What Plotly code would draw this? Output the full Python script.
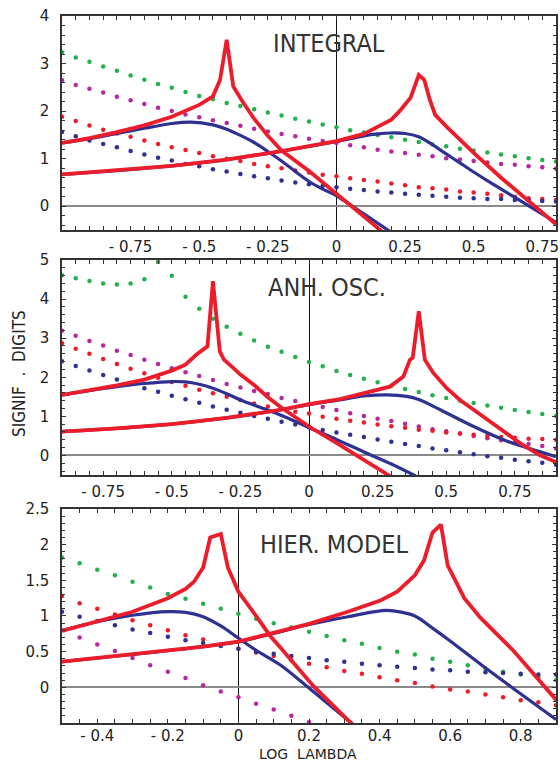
import plotly.graph_objects as go

# ---------------- data ----------------
# dotted series grids
X1 = [-1.0, -0.95, -0.9, -0.85, -0.8, -0.75, -0.7, -0.65, -0.6, -0.55, -0.5, -0.45, -0.4, -0.35, -0.3, -0.25,
      -0.2, -0.15, -0.1, -0.05, 0.0, 0.05, 0.1, 0.15, 0.2, 0.25, 0.3, 0.35, 0.4, 0.45, 0.5, 0.55, 0.6, 0.65,
      0.7, 0.75, 0.8]
X2 = [-0.9, -0.85, -0.8, -0.75, -0.7, -0.65, -0.6, -0.55, -0.5, -0.45, -0.4, -0.35, -0.3, -0.25, -0.2, -0.15,
      -0.1, -0.05, 0.0, 0.05, 0.1, 0.15, 0.2, 0.25, 0.3, 0.35, 0.4, 0.45, 0.5, 0.55, 0.6, 0.65, 0.7, 0.75,
      0.8, 0.85, 0.9]
X3 = [-0.5, -0.45, -0.4, -0.35, -0.3, -0.25, -0.2, -0.15, -0.1, -0.05, 0.0, 0.05, 0.1, 0.15, 0.2, 0.25, 0.3,
      0.35, 0.4, 0.45, 0.5, 0.55, 0.6, 0.65, 0.7, 0.75, 0.8, 0.85, 0.9]

# Panel 1: INTEGRAL
P1_green = [3.24, 3.13, 3.04, 2.94, 2.85, 2.75, 2.66, 2.57, 2.49, 2.40, 2.32, 2.25, 2.17, 2.11, 2.04, 1.97,
            1.91, 1.84, 1.78, 1.72, 1.66, 1.60, 1.55, 1.50, 1.45, 1.40, 1.35, 1.30, 1.26, 1.21, 1.17, 1.13,
            1.09, 1.05, 1.01, 0.97, 0.94]
P1_magenta = [2.65, 2.55, 2.47, 2.39, 2.30, 2.23, 2.15, 2.07, 2.00, 1.93, 1.87, 1.81, 1.75, 1.69, 1.63, 1.57,
              1.52, 1.47, 1.42, 1.37, 1.33, 1.28, 1.24, 1.19, 1.15, 1.12, 1.08, 1.05, 1.01, 0.98, 0.95, 0.92,
              0.89, 0.87, 0.84, 0.82, 0.79]
P1_red = [1.88, 1.79, 1.70, 1.61, 1.53, 1.46, 1.38, 1.31, 1.24, 1.18, 1.12, 1.05, 1.00, 0.95, 0.89, 0.84,
          0.80, 0.75, 0.71, 0.66, 0.63, 0.59, 0.55, 0.52, 0.48, 0.44, 0.40, 0.38, 0.35, 0.31, 0.29, 0.26,
          0.23, 0.20, 0.17, 0.15, 0.13]
P1_blue = [1.56, 1.47, 1.38, 1.31, 1.24, 1.16, 1.09, 1.02, 0.96, 0.89, 0.84, 0.78, 0.73, 0.68, 0.63, 0.59,
           0.54, 0.50, 0.46, 0.43, 0.40, 0.37, 0.34, 0.31, 0.29, 0.26, 0.24, 0.22, 0.20, 0.18, 0.17, 0.15,
           0.15, 0.13, 0.13, 0.11, 0.10]
P1_redA_x = [-1.0, -0.9, -0.8, -0.7, -0.6, -0.5, -0.45, -0.424, -0.40, -0.376, -0.34, -0.30, -0.25, -0.2, -0.1, 0.0, 0.1, 0.17]
P1_redA_y = [1.33, 1.43, 1.56, 1.70, 1.88, 2.13, 2.31, 2.66, 3.50, 2.52, 2.18, 1.84, 1.48, 1.17, 0.74, 0.27, -0.22, -0.55]
P1_blueA_x = [-1.0, -0.9, -0.8, -0.7, -0.6, -0.53, -0.45, -0.4, -0.35, -0.3, -0.25, -0.2, -0.15, -0.1, -0.05, 0.0, 0.1, 0.2]
P1_blueA_y = [1.33, 1.42, 1.53, 1.64, 1.74, 1.77, 1.71, 1.62, 1.49, 1.34, 1.15, 0.95, 0.73, 0.52, 0.36, 0.22, -0.16, -0.55]
P1_redB_x = [-1.0, -0.8, -0.6, -0.4, -0.2, 0.0, 0.1, 0.16, 0.2, 0.23, 0.27, 0.30, 0.32, 0.34, 0.36, 0.4, 0.5, 0.6, 0.7, 0.8]
P1_redB_y = [0.67, 0.75, 0.85, 0.98, 1.16, 1.37, 1.52, 1.70, 1.82, 2.00, 2.28, 2.76, 2.66, 2.24, 1.92, 1.68, 1.12, 0.60, 0.11, -0.38]
P1_blueB_x = [-1.0, -0.8, -0.6, -0.4, -0.2, 0.0, 0.1, 0.15, 0.2, 0.25, 0.3, 0.34, 0.4, 0.44, 0.5, 0.56, 0.62, 0.68, 0.74, 0.8]
P1_blueB_y = [0.67, 0.75, 0.85, 0.98, 1.16, 1.36, 1.48, 1.52, 1.54, 1.53, 1.46, 1.33, 1.10, 0.95, 0.72, 0.50, 0.29, 0.08, -0.13, -0.34]

# Panel 2: ANH. OSC.
P2_green = [4.61, 4.53, 4.46, 4.40, 4.37, 4.40, 4.51, 4.95, 4.60, 4.06, 3.75, 3.50, 3.29, 3.11, 2.94, 2.78,
            2.65, 2.52, 2.39, 2.28, 2.16, 2.06, 1.96, 1.87, 1.78, 1.70, 1.62, 1.54, 1.47, 1.40, 1.34, 1.28,
            1.22, 1.16, 1.11, 1.06, 1.01]
P2_magenta = [3.19, 3.06, 2.93, 2.81, 2.68, 2.57, 2.45, 2.34, 2.23, 2.13, 2.03, 1.93, 1.83, 1.74, 1.65, 1.57,
              1.47, 1.39, 1.31, 1.24, 1.16, 1.08, 1.01, 0.94, 0.88, 0.81, 0.74, 0.67, 0.62, 0.56, 0.50, 0.44,
              0.39, 0.34, 0.29, 0.24, 0.18]
P2_red = [2.87, 2.73, 2.60, 2.47, 2.34, 2.22, 2.10, 1.99, 1.88, 1.78, 1.68, 1.59, 1.50, 1.42, 1.33, 1.25,
          1.19, 1.12, 1.07, 0.99, 0.94, 0.89, 0.84, 0.79, 0.75, 0.71, 0.66, 0.63, 0.59, 0.56, 0.53, 0.50,
          0.47, 0.45, 0.43, 0.42, 0.40]
P2_blue = [2.41, 2.29, 2.17, 2.06, 1.94, 1.83, 1.72, 1.63, 1.53, 1.44, 1.35, 1.25, 1.17, 1.09, 1.01, 0.94,
           0.86, 0.79, 0.72, 0.65, 0.59, 0.53, 0.47, 0.41, 0.35, 0.29, 0.24, 0.18, 0.13, 0.08, 0.03, -0.02,
           -0.06, -0.11, -0.15, -0.19, -0.24]
P2_redA_x = [-0.9, -0.8, -0.7, -0.6, -0.5, -0.45, -0.41, -0.37, -0.35, -0.325, -0.31, -0.276, -0.25, -0.2, -0.15, -0.1, 0.0, 0.1, 0.2, 0.3]
P2_redA_y = [1.55, 1.67, 1.79, 1.94, 2.17, 2.32, 2.58, 2.79, 4.46, 2.66, 2.45, 2.24, 2.07, 1.80, 1.49, 1.22, 0.74, 0.32, -0.11, -0.55]
P2_blueA_x = [-0.9, -0.8, -0.7, -0.6, -0.5, -0.45, -0.4, -0.35, -0.3, -0.25, -0.2, -0.15, -0.1, -0.05, 0.0, 0.1, 0.2, 0.3, 0.39]
P2_blueA_y = [1.55, 1.66, 1.76, 1.84, 1.89, 1.88, 1.82, 1.72, 1.58, 1.42, 1.29, 1.16, 1.02, 0.87, 0.71, 0.41, 0.09, -0.22, -0.53]
P2_redB_x = [-0.9, -0.7, -0.5, -0.3, -0.1, 0.0, 0.113, 0.235, 0.295, 0.344, 0.368, 0.378, 0.40, 0.422, 0.453, 0.502, 0.55, 0.6, 0.66, 0.72, 0.77, 0.84, 0.9]
P2_redB_y = [0.61, 0.69, 0.80, 0.96, 1.17, 1.31, 1.44, 1.64, 1.76, 2.02, 2.45, 2.50, 3.69, 2.45, 2.11, 1.72, 1.42, 1.17, 0.87, 0.57, 0.31, 0.01, -0.17]
P2_blueB_x = [-0.9, -0.7, -0.5, -0.3, -0.1, 0.0, 0.113, 0.2, 0.283, 0.356, 0.4, 0.478, 0.6, 0.72, 0.84, 0.9]
P2_blueB_y = [0.61, 0.69, 0.80, 0.96, 1.17, 1.30, 1.42, 1.52, 1.55, 1.51, 1.43, 1.17, 0.74, 0.37, 0.10, -0.03]

# Panel 3: HIER. MODEL
P3_green = [1.82, 1.74, 1.65, 1.57, 1.48, 1.40, 1.31, 1.24, 1.17, 1.10, 1.03, 0.96, 0.90, 0.84, 0.78, 0.72,
            0.66, 0.61, 0.55, 0.50, 0.46, 0.40, 0.36, 0.31, 0.26, 0.22, 0.18, 0.14, 0.10]
P3_magenta = [None, 0.70, 0.60, 0.51, 0.41, 0.31, 0.22, 0.13, 0.03, -0.06, -0.14, -0.23, -0.31, -0.40, -0.49,
              None, None, None, None, None, None, None, None, None, None, None, None, None, None]
P3_red = [1.28, 1.18, 1.10, 1.02, 0.94, 0.87, 0.80, 0.73, 0.67, 0.60, 0.54, 0.49, 0.44, 0.38, 0.33, 0.28,
          0.23, 0.19, 0.14, 0.10, 0.06, 0.01, -0.03, -0.06, -0.10, -0.14, -0.18, -0.21, -0.25]
P3_blue = [1.06, 0.99, 0.93, 0.87, 0.81, 0.76, 0.71, 0.66, 0.62, 0.58, 0.54, 0.50, 0.47, 0.44, 0.41, 0.38,
           0.36, 0.33, 0.31, 0.29, 0.27, 0.25, 0.24, 0.22, 0.21, 0.20, 0.19, 0.18, 0.18]
P3_redA_x = [-0.5, -0.4, -0.3, -0.2, -0.15, -0.126, -0.1, -0.08, -0.05, -0.03, 0.0, 0.05, 0.09, 0.12, 0.214, 0.325]
P3_redA_y = [0.79, 0.93, 1.06, 1.25, 1.38, 1.48, 1.68, 2.10, 2.15, 1.68, 1.34, 1.00, 0.72, 0.55, 0.01, -0.53]
P3_blueA_x = [-0.5, -0.4, -0.3, -0.2, -0.15, -0.1, -0.05, 0.0, 0.05, 0.12, 0.2, 0.325]
P3_blueA_y = [0.80, 0.92, 1.01, 1.06, 1.05, 0.99, 0.86, 0.69, 0.52, 0.31, -0.01, -0.52]
P3_redB_x = [-0.5, -0.3, -0.1, 0.0, 0.126, 0.2, 0.31, 0.404, 0.45, 0.5, 0.526, 0.55, 0.574, 0.593, 0.64, 0.687, 0.78, 0.857, 0.903]
P3_redB_y = [0.36, 0.46, 0.57, 0.64, 0.79, 0.89, 1.06, 1.22, 1.34, 1.57, 1.78, 2.17, 2.28, 1.71, 1.25, 0.97, 0.51, 0.06, -0.19]
P3_blueB_x = [-0.5, -0.3, -0.1, 0.0, 0.12, 0.2, 0.31, 0.42, 0.5, 0.55, 0.6, 0.69, 0.78, 0.9]
P3_blueB_y = [0.36, 0.46, 0.57, 0.64, 0.78, 0.88, 0.99, 1.08, 1.00, 0.83, 0.65, 0.31, -0.02, -0.45]

X_TICKS_A = [-0.75, -0.5, -0.25, 0, 0.25, 0.5, 0.75]
X_TEXT_A = ["- 0.75", "- 0.5", "- 0.25", "0", "0.25", "0.5", "0.75"]
X_TICKS_C = [-0.4, -0.2, 0, 0.2, 0.4, 0.6, 0.8]
X_TEXT_C = ["- 0.4", "- 0.2", "0", "0.2", "0.4", "0.6", "0.8"]
Y_TICKS_1 = [0, 1, 2, 3, 4]
Y_TICKS_2 = [0, 1, 2, 3, 4, 5]
Y_TICKS_3 = [0, 0.5, 1, 1.5, 2, 2.5]
Y_TEXT_3 = ["0", "0.5", "1", "1.5", "2", "2.5"]

PANEL_TITLES = ["INTEGRAL", "ANH. OSC.", "HIER. MODEL"]

# ---------------- styles ----------------
GREEN = "#22b14c"
MAGENTA = "#b5289e"
RED_DOT = "#ec1c2a"
BLUE_DOT = "#2e3192"
RED = "#ec1c2a"
BLUE = "#2e3192"
TICK_FONT = dict(family="DejaVu Sans", size=15, color="#222")
NARROW = "Liberation Sans Narrow, Arial Narrow, DejaVu Sans Condensed, Liberation Sans, sans-serif"

fig = go.Figure()

panels = [
    ("x", "y", X1, [P1_green, P1_magenta, P1_red, P1_blue],
     [(P1_blueA_x, P1_blueA_y), (P1_blueB_x, P1_blueB_y)],
     [(P1_redA_x, P1_redA_y), (P1_redB_x, P1_redB_y)]),
    ("x2", "y2", X2, [P2_green, P2_magenta, P2_red, P2_blue],
     [(P2_blueA_x, P2_blueA_y), (P2_blueB_x, P2_blueB_y)],
     [(P2_redA_x, P2_redA_y), (P2_redB_x, P2_redB_y)]),
    ("x3", "y3", X3, [P3_green, P3_magenta, P3_red, P3_blue],
     [(P3_blueA_x, P3_blueA_y), (P3_blueB_x, P3_blueB_y)],
     [(P3_redA_x, P3_redA_y), (P3_redB_x, P3_redB_y)]),
]
dot_colors = [GREEN, MAGENTA, RED_DOT, BLUE_DOT]

for xa, ya, xs, dots, blues, reds in panels:
    for ys, c in zip(dots, dot_colors):
        fig.add_trace(go.Scatter(x=xs, y=ys, mode="markers", xaxis=xa, yaxis=ya,
                                 marker=dict(size=4.5, color=c), showlegend=False, hoverinfo="skip"))
    for bx, by in blues:
        fig.add_trace(go.Scatter(x=bx, y=by, mode="lines", xaxis=xa, yaxis=ya,
                                 line=dict(color=BLUE, width=3.2, shape="spline", smoothing=0.8),
                                 showlegend=False, hoverinfo="skip"))
    for rx, ry in reds:
        fig.add_trace(go.Scatter(x=rx, y=ry, mode="lines", xaxis=xa, yaxis=ya,
                                 line=dict(color=RED, width=3.8),
                                 showlegend=False, hoverinfo="skip"))


def xaxis(rng, tv, tt, anchor, standoff):
    return dict(range=rng, domain=[0, 1], anchor=anchor, tickmode="array", tickvals=tv, ticktext=tt,
                ticks="inside", ticklen=4, tickwidth=1, tickcolor="#333",
                showline=True, linecolor="#333", linewidth=1.5, mirror="ticks",
                showgrid=False, zeroline=True, zerolinecolor="#111", zerolinewidth=1.3,
                minor=dict(tickmode="linear", tick0=0, dtick=0.05, ticks="inside", ticklen=4,
                           tickwidth=1, tickcolor="#333", showgrid=False),
                tickfont=TICK_FONT, ticklabelstandoff=standoff, automargin=False)


def yaxis(rng, tv, tt, dom, anchor, mdt):
    return dict(range=rng, domain=dom, anchor=anchor, tickmode="array", tickvals=tv, ticktext=tt,
                ticks="inside", ticklen=4, tickwidth=1, tickcolor="#333",
                showline=True, linecolor="#333", linewidth=1.5, mirror="ticks",
                showgrid=False, zeroline=True, zerolinecolor="#8a8a8a", zerolinewidth=1.8,
                minor=dict(tickmode="linear", tick0=0, dtick=mdt, ticks="inside", ticklen=3,
                           tickwidth=1, tickcolor="#333", showgrid=False),
                tickfont=TICK_FONT, ticklabelstandoff=8, automargin=False)


fig.update_layout(
    width=560, height=765,
    margin=dict(l=62, r=4, t=16, b=42),
    paper_bgcolor="white", plot_bgcolor="white",
    xaxis=xaxis([-1, 0.8], X_TICKS_A, X_TEXT_A, "y", 2),
    xaxis2=xaxis([-0.9, 0.9], X_TICKS_A, X_TEXT_A, "y2", 2),
    xaxis3=xaxis([-0.5, 0.9], X_TICKS_C, X_TEXT_C, "y3", -2),
    yaxis=yaxis([-0.5, 4], Y_TICKS_1, [str(v) for v in Y_TICKS_1], [0.6973, 1.0], "x", 0.2),
    yaxis2=yaxis([-0.5, 5], Y_TICKS_2, [str(v) for v in Y_TICKS_2], [0.3508, 0.6549], "x2", 0.2),
    yaxis3=yaxis([-0.5, 2.5], Y_TICKS_3, Y_TEXT_3, [0.0, 0.3027], "x3", 0.1),
)

title_pos = [(0.5395, 0.9604), (0.5364, 0.6153), (0.5496, 0.2518)]
for txt, (px, py) in zip(PANEL_TITLES, title_pos):
    fig.add_annotation(text=txt, x=px, y=py, xref="paper", yref="paper", showarrow=False,
                       xanchor="center", yanchor="middle",
                       font=dict(family=NARROW, size=25, color="#333"))

fig.add_annotation(text="SIGNIF  .  DIGITS", x=-0.087, y=0.4936, xref="paper", yref="paper",
                   showarrow=False, textangle=-90, xanchor="center", yanchor="middle",
                   font=dict(family=NARROW, size=17, color="#222"))
fig.add_annotation(text="LOG  LAMBDA", x=0.498, y=-0.0585, xref="paper", yref="paper",
                   showarrow=False, xanchor="center", yanchor="bottom",
                   font=dict(family="DejaVu Sans", size=14, color="#222"))

POST = "document.body.style.margin='0';document.body.style.padding='0';"
fig.write_html("out.html", post_script=POST, config={"displayModeBar": False})
